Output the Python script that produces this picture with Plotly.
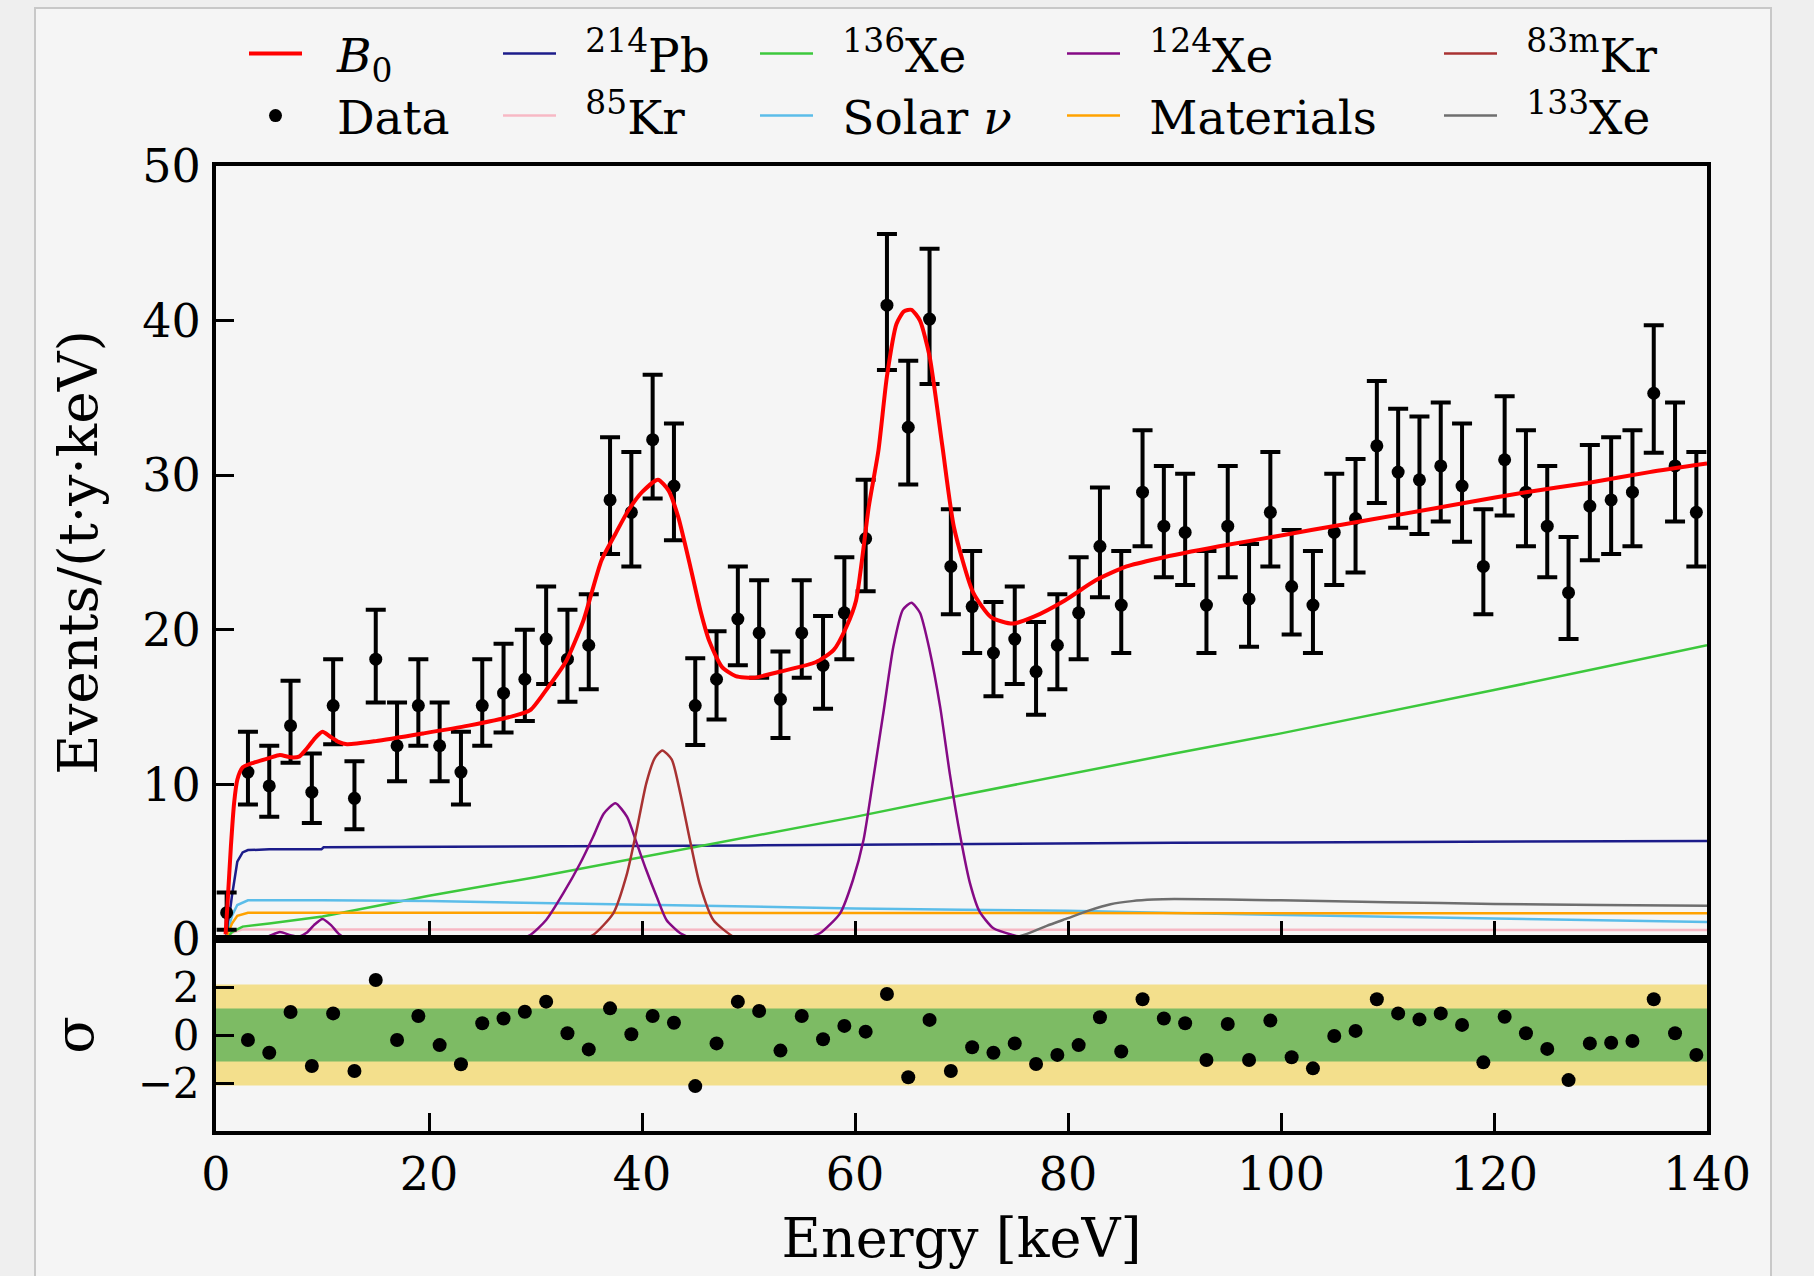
import plotly.graph_objects as go

# ---------------- data ----------------
energy = [1, 3, 5, 7, 9, 11, 13, 15, 17, 19, 21, 23, 25, 27, 29, 31, 33, 35, 37, 39,
          41, 43, 45, 47, 49, 51, 53, 55, 57, 59, 61, 63, 65, 67, 69, 71, 73, 75, 77, 79,
          81, 83, 85, 87, 89, 91, 93, 95, 97, 99, 101, 103, 105, 107, 109, 111, 113, 115, 117, 119,
          121, 123, 125, 127, 129, 131, 133, 135, 137, 139]
data_y = [1.7, 10.8, 9.9, 13.8, 9.5, 15.1, 9.1, 18.1, 12.5, 15.1, 12.5, 10.8, 15.1, 15.9, 16.8, 19.4, 18.1, 19.0, 28.4, 27.6,
          32.3, 29.3, 15.1, 16.8, 20.7, 19.8, 15.5, 19.8, 17.7, 21.1, 25.9, 41.0, 33.1, 40.1, 24.1, 21.5, 18.5, 19.4, 17.3, 19.0,
          21.1, 25.4, 21.6, 28.9, 26.7, 26.3, 21.6, 26.7, 22.0, 27.6, 22.8, 21.6, 26.3, 27.2, 31.9, 30.2, 29.7, 30.6, 29.3, 24.1,
          31.0, 28.9, 26.7, 22.4, 28.0, 28.4, 28.9, 35.3, 30.6, 27.6]
err_hi = [1.3, 2.6, 2.6, 2.9, 2.5, 3.0, 2.4, 3.2, 2.8, 3.0, 2.8, 2.6, 3.0, 3.2, 3.2, 3.4, 3.2, 3.3, 4.05, 3.9,
          4.2, 4.05, 3.06, 3.1, 3.4, 3.4, 3.1, 3.4, 3.2, 3.6, 3.8, 4.6, 4.3, 4.55, 3.7, 3.6, 3.3, 3.4, 3.2, 3.3,
          3.6, 3.8, 3.5, 4.0, 3.9, 3.8, 3.5, 3.9, 3.55, 3.9, 3.65, 3.5, 3.8, 3.85, 4.2, 4.1, 4.1, 4.1, 4.05, 3.7,
          4.1, 4.0, 3.9, 3.6, 3.95, 4.05, 4.0, 4.4, 4.1, 3.9]
err_lo = [1.1, 2.1, 2.0, 2.4, 2.0, 2.5, 2.0, 2.8, 2.3, 2.6, 2.3, 2.1, 2.6, 2.55, 2.7, 2.9, 2.75, 2.85, 3.5, 3.5,
          3.8, 3.5, 2.55, 2.6, 3.0, 2.9, 2.5, 2.9, 2.8, 3.0, 3.4, 4.2, 3.7, 4.2, 3.1, 3.0, 2.8, 2.9, 2.8, 2.85,
          3.0, 3.3, 3.1, 3.5, 3.3, 3.4, 3.1, 3.3, 3.1, 3.5, 3.1, 3.1, 3.4, 3.5, 3.7, 3.6, 3.5, 3.6, 3.6, 3.1,
          3.6, 3.5, 3.3, 3.0, 3.5, 3.5, 3.5, 3.85, 3.6, 3.5]

resid_energy = [3, 5, 7, 9, 11, 13, 15, 17, 19, 21, 23, 25, 27, 29, 31, 33, 35, 37, 39,
                41, 43, 45, 47, 49, 51, 53, 55, 57, 59, 61, 63, 65, 67, 69, 71, 73, 75, 77, 79,
                81, 83, 85, 87, 89, 91, 93, 95, 97, 99, 101, 103, 105, 107, 109, 111, 113, 115, 117, 119,
                121, 123, 125, 127, 129, 131, 133, 135, 137, 139]
resid_sigma = [-0.21, -0.74, 0.96, -1.29, 0.90, -1.50, 2.29, -0.21, 0.79, -0.42, -1.22, 0.49, 0.69, 0.97, 1.39, 0.07, -0.60, 1.11, 0.03,
               0.79, 0.51, -2.13, -0.35, 1.39, 1.00, -0.65, 0.79, -0.18, 0.38, 0.14, 1.71, -1.76, 0.63, -1.50, -0.51, -0.74, -0.35, -1.21, -0.83,
               -0.42, 0.74, -0.69, 1.49, 0.69, 0.49, -1.04, 0.46, -1.04, 0.60, -0.93, -1.39, -0.04, 0.17, 1.49, 0.90, 0.65, 0.90, 0.42, -1.14,
               0.76, 0.07, -0.58, -1.88, -0.35, -0.32, -0.25, 1.49, 0.07, -0.83]
band_inner = 1.1
band_outer = 2.1

# model curves
b0_x = [0.9, 1.1, 1.4, 1.7, 2.0, 2.5, 3.5, 5.0, 6.0, 7.0, 7.8, 8.5, 9.3, 10.0, 10.7, 11.5, 12.3, 15, 19.5, 23.7,
        27.8, 29.5, 31.2, 32.9, 34.5, 36.2, 37.5, 38.7, 40.0, 41.5, 42.5, 43.4, 44.6, 45.5, 46.3, 47.5, 48.8, 50.5,
        53, 56.3, 58.0, 59.2, 60.1, 61.3, 62.2, 63.0, 63.9, 64.6, 65.3, 66.1, 67.0, 68.2, 69.3, 71.1, 72.8, 74.8,
        76.8, 79.7, 82.6, 85.5, 88.4, 94.2, 100, 105.7, 111.5, 117.2, 123, 128.8, 134.6, 140]
b0_y = [0.3, 2.5, 6.0, 8.8, 10.3, 11.1, 11.4, 11.7, 11.9, 11.75, 11.8, 12.3, 13.0, 13.4, 13.1, 12.75, 12.6, 12.8, 13.3, 13.8,
        14.4, 14.8, 16.3, 18.0, 20.6, 24.5, 26.2, 27.7, 28.9, 29.7, 29.0, 27.3, 23.9, 21.2, 19.3, 17.6, 17.0, 16.9,
        17.3, 17.9, 18.7, 20.2, 21.9, 28.0, 31.6, 36.4, 39.8, 40.6, 40.7, 40.0, 37.7, 31.9, 26.6, 22.4, 20.8, 20.4,
        20.85, 21.9, 23.2, 24.1, 24.6, 25.4, 26.1, 26.8, 27.5, 28.2, 28.9, 29.5, 30.2, 30.75]

pb214_x = [0.9, 1.2, 1.5, 2.0, 2.5, 3.0, 5.0, 9.9, 10.1, 20, 30, 40, 50, 60, 70, 80, 90, 100, 110, 120, 130, 140]
pb214_y = [0.0, 1.2, 2.8, 5.0, 5.6, 5.75, 5.8, 5.8, 5.93, 5.95, 5.98, 6.0, 6.05, 6.1, 6.15, 6.2, 6.22, 6.25, 6.28, 6.3, 6.32, 6.34]

kr85_x = [0.9, 1.5, 2.5, 20, 40, 60, 80, 100, 120, 140]
kr85_y = [0.0, 0.4, 0.62, 0.62, 0.62, 0.61, 0.6, 0.6, 0.59, 0.58]

xe136_x = [0.9, 1.5, 2.5, 5, 10, 20, 30, 40, 50, 60, 70, 80, 90, 100, 110, 120, 130, 140]
xe136_y = [0.0, 0.45, 0.8, 1.0, 1.45, 2.8, 4.0, 5.3, 6.6, 7.9, 9.3, 10.65, 12.0, 13.3, 14.7, 16.1, 17.55, 19.0]

solar_x = [0.9, 1.5, 2.0, 3.0, 5, 10, 20, 30, 40, 50, 60, 70, 80, 90, 100, 110, 120, 130, 140]
solar_y = [0.0, 1.5, 2.2, 2.5, 2.5, 2.5, 2.45, 2.33, 2.23, 2.12, 1.98, 1.9, 1.82, 1.68, 1.55, 1.45, 1.33, 1.22, 1.1]

materials_x = [0.9, 1.5, 2.0, 3.0, 5, 20, 40, 60, 80, 100, 120, 140]
materials_y = [0.0, 1.0, 1.5, 1.7, 1.7, 1.7, 1.7, 1.7, 1.68, 1.67, 1.66, 1.66]

xe124_x = [0.9, 4.0, 5.0, 6.0, 7.0, 7.8, 8.5, 9.2, 10.0, 10.8, 11.5, 12.2, 13.0, 28.0, 29.5, 31.0, 32.6, 34.2,
           35.4, 36.4, 37.5, 38.6, 39.5, 40.4, 41.4, 42.3, 43.6, 44.8, 55.0, 56.7, 58.6, 59.8, 60.8, 61.7, 62.7,
           63.6, 64.5, 65.3, 66.1, 67.0, 68.0, 68.9, 69.9, 70.8, 71.7, 73.0, 74.8, 76.5, 140]
xe124_y = [0, 0, 0.2, 0.45, 0.25, 0.15, 0.4, 0.9, 1.3, 0.9, 0.35, 0.05, 0, 0, 0.26, 1.23, 2.95, 4.9,
           6.6, 8.1, 8.78, 7.9, 6.2, 4.46, 2.7, 1.23, 0.37, 0.05, 0, 0.37, 1.66, 3.8, 6.4, 10.3, 14.8,
           18.9, 21.3, 21.75, 21.1, 18.7, 15.0, 10.7, 6.6, 3.6, 1.77, 0.69, 0.26, 0, 0]

kr83m_x = [0.9, 34.0, 35.4, 37.3, 38.6, 39.5, 40.4, 41.2, 41.9, 42.8, 43.6, 44.5, 45.4, 46.7, 48.6, 50.0, 140]
kr83m_y = [0, 0, 0.26, 1.66, 4.25, 7.05, 10.07, 11.7, 12.2, 11.6, 9.4, 6.4, 3.6, 1.23, 0.15, 0, 0]

xe133_x = [72, 74.0, 75.0, 76.0, 78.0, 80.0, 82.0, 84.0, 86.0, 88.0, 90.0, 95, 100, 110, 120, 130, 140]
xe133_y = [0, 0, 0.1, 0.3, 0.85, 1.35, 1.85, 2.25, 2.45, 2.55, 2.58, 2.55, 2.5, 2.38, 2.27, 2.2, 2.15]

x_ticks = [0, 20, 40, 60, 80, 100, 120, 140]
y_ticks = [0, 10, 20, 30, 40, 50]
r_ticks = [-2, 0, 2]

# ---------------- geometry (pixels of the 1814x1276 page) ----------------
W, H = 1814, 1276
FONT = "DejaVu Serif"
AX_L, AX_R, AX_T, AX_SPLIT, AX_B = 216, 1707, 166, 939, 1131
PW, PH = AX_R - AX_L, AX_B - AX_T


def px(X):
    return (X - AX_L) / PW


def py(Y):
    return (AX_B - Y) / PH


GAP_WIDE = "\u00a0\u00a0"     # gap between legend line and text (first column)
GAP_NARROW = "\u00a0\u2009"   # slightly narrower gap for the other columns

fig = go.Figure()

components = [
    (pb214_x, pb214_y, "<sup>214</sup>Pb", "#1c1c8a", "legend2", "linear"),
    (kr85_x, kr85_y, "<sup>85</sup>Kr", "#f7b8c4", "legend7", "linear"),
    (xe136_x, xe136_y, "<sup>136</sup>Xe", "#3cc83c", "legend3", "linear"),
    (solar_x, solar_y, "Solar <i>ν</i>", "#5bbde9", "legend8", "linear"),
    (materials_x, materials_y, "Materials", "#ffa200", "legend9", "linear"),
    (xe133_x, xe133_y, "<sup>133</sup>Xe", "#6e6e6e", "legend10", "spline"),
    (xe124_x, xe124_y, "<sup>124</sup>Xe", "#850a85", "legend4", "spline"),
    (kr83m_x, kr83m_y, "<sup>83m</sup>Kr", "#a83232", "legend5", "spline"),
]
for xs, ys, name, col, leg, shape in components:
    fig.add_trace(go.Scatter(
        x=xs, y=ys, mode="lines", name=GAP_NARROW + name, legend=leg,
        line=dict(color=col, width=2.5, shape=shape, smoothing=0.6 if shape == "spline" else None),
        xaxis="x", yaxis="y", hoverinfo="skip"))

fig.add_trace(go.Scatter(
    x=energy, y=data_y, mode="markers", name=GAP_WIDE + "Data", legend="legend6",
    marker=dict(color="black", size=13),
    error_y=dict(type="data", symmetric=False, array=err_hi, arrayminus=err_lo,
                 color="black", thickness=4, width=10),
    xaxis="x", yaxis="y"))

fig.add_trace(go.Scatter(
    x=b0_x, y=b0_y, mode="lines", name=GAP_WIDE + "<i>B</i><sub>0</sub>", legend="legend",
    line=dict(color="#ff0000", width=4, shape="spline", smoothing=0.6),
    xaxis="x", yaxis="y"))

fig.add_trace(go.Scatter(
    x=resid_energy, y=resid_sigma, mode="markers", showlegend=False,
    marker=dict(color="black", size=14), xaxis="x2", yaxis="y2"))

# residual bands
fig.add_shape(type="rect", xref="x2", yref="y2", x0=0, x1=140, y0=-band_outer, y1=band_outer,
              fillcolor="#f3df8c", line_width=0, layer="below")
fig.add_shape(type="rect", xref="x2", yref="y2", x0=0, x1=140, y0=-band_inner, y1=band_inner,
              fillcolor="#7dbb64", line_width=0, layer="below")

# card frame behind the chart
fig.add_shape(type="rect", xref="paper", yref="paper", x0=px(35), x1=px(1771), y0=py(1300), y1=py(8),
              fillcolor="#f5f5f5", line=dict(color="#c8c8c8", width=2), layer="below")

axis_common = dict(showgrid=False, zeroline=False, showline=True, linecolor="black", linewidth=4,
                   mirror=True, ticks="inside", ticklen=18, tickwidth=3, tickcolor="black",
                   automargin=False)

split = py(AX_SPLIT)
fig.update_layout(
    width=W, height=H,
    margin=dict(l=AX_L, r=W - AX_R, t=AX_T, b=H - AX_B, autoexpand=False),
    paper_bgcolor="#efefef", plot_bgcolor="rgba(0,0,0,0)",
    font=dict(family=FONT, color="black"),
    xaxis=dict(domain=[0, 1], range=[0, 140], anchor="y", tickvals=x_ticks, showticklabels=False,
               **axis_common),
    yaxis=dict(domain=[split, 1], range=[0, 50], anchor="x", tickvals=y_ticks,
               ticklabelstandoff=2, tickfont=dict(family=FONT, size=46, color="black"),
               title=dict(text="Events/(t·y·keV)", font=dict(family=FONT, size=55), standoff=28),
               **axis_common),
    xaxis2=dict(domain=[0, 1], range=[0, 140], anchor="y2", matches="x", tickvals=x_ticks,
                ticklabelstandoff=0, tickfont=dict(family=FONT, size=46, color="black"),
                title=dict(text="Energy [keV]", font=dict(family=FONT, size=54), standoff=20),
                **axis_common),
    yaxis2=dict(domain=[0, split], range=[-4, 4], anchor="x2", tickvals=r_ticks,
                ticklabelstandoff=4, tickfont=dict(family=FONT, size=42, color="black"),
                title=dict(text="σ", font=dict(family=FONT, size=55), standoff=27),
                **axis_common),
    showlegend=True,
)

leg_common = dict(orientation="v", xanchor="left", yanchor="middle", bgcolor="rgba(0,0,0,0)",
                  borderwidth=0, font=dict(family=FONT, size=47, color="black"), itemwidth=53)
col_line_start = [249, 503, 760, 1067, 1444]
row_centre = [54, 116]
legend_ids = [["legend", "legend2", "legend3", "legend4", "legend5"],
              ["legend6", "legend7", "legend8", "legend9", "legend10"]]
for r, row in enumerate(legend_ids):
    for c, lid in enumerate(row):
        fig.update_layout({lid: dict(x=px(col_line_start[c] - 5), y=py(row_centre[r]), **leg_common)})

fig.write_html("out.html")
